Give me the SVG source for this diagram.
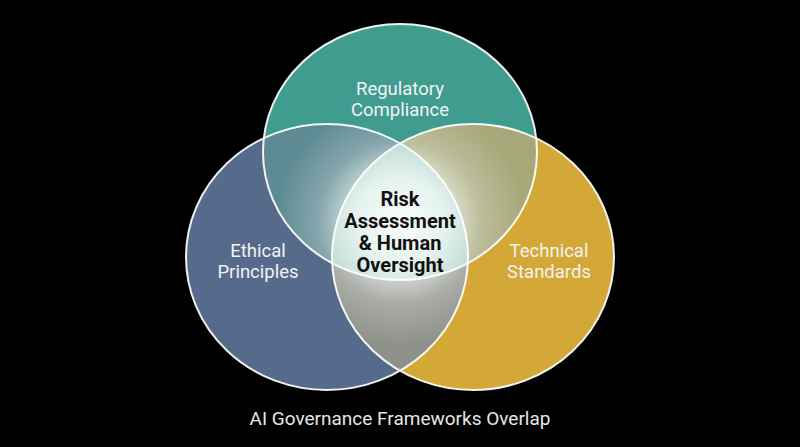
<svg xmlns="http://www.w3.org/2000/svg" width="800" height="447" viewBox="0 0 800 447">
  <style>
    .lbl { font-family: Roboto, "Liberation Sans", sans-serif; font-size: 18.5px; fill: #F2F2F2; text-anchor: middle; }
    .ctr { font-family: Roboto, "Liberation Sans", sans-serif; font-size: 20px; font-weight: bold; fill: #111111; text-anchor: middle; }
    .title { font-family: Roboto, "Liberation Sans", sans-serif; font-size: 19px; fill: #E6E6E6; text-anchor: middle; }
    .ring { fill: none; stroke: #FFFFFF; stroke-width: 2; stroke-opacity: 0.92; }
  </style>
  <defs>
    <clipPath id="cTop"><ellipse cx="400" cy="152" rx="137" ry="128"/></clipPath>
    <clipPath id="cLeft"><ellipse cx="327" cy="257" rx="141" ry="133"/></clipPath>
    <clipPath id="cRight"><ellipse cx="473" cy="257" rx="141" ry="133"/></clipPath>
    <clipPath id="cOver">
      <ellipse cx="400" cy="152" rx="137" ry="128" clip-path="url(#cLeft)"/>
      <ellipse cx="400" cy="152" rx="137" ry="128" clip-path="url(#cRight)"/>
      <ellipse cx="327" cy="257" rx="141" ry="133" clip-path="url(#cRight)"/>
    </clipPath>
    <radialGradient id="glow" cx="400" cy="222" r="125" gradientUnits="userSpaceOnUse">
      <stop offset="0" stop-color="#FFFFFF" stop-opacity="0.95"/>
      <stop offset="0.35" stop-color="#F4FBF8" stop-opacity="0.8"/>
      <stop offset="0.65" stop-color="#FFFFFF" stop-opacity="0.25"/>
      <stop offset="1" stop-color="#FFFFFF" stop-opacity="0"/>
    </radialGradient>
  </defs>
  <rect width="800" height="447" fill="#000000"/>

  <g id="fills">
    <ellipse cx="400" cy="152" rx="137" ry="128" fill="#3F9C8E"/>
    <ellipse cx="327" cy="257" rx="141" ry="133" fill="#566B8C"/>
    <ellipse cx="473" cy="257" rx="141" ry="133" fill="#D4A836"/>
    <g clip-path="url(#cLeft)"><ellipse cx="400" cy="152" rx="137" ry="128" fill="#5E8A93"/></g>
    <g clip-path="url(#cRight)"><ellipse cx="400" cy="152" rx="137" ry="128" fill="#A7A87A"/></g>
    <g clip-path="url(#cRight)"><ellipse cx="327" cy="257" rx="141" ry="133" fill="#8E918A"/></g>
    <g clip-path="url(#cRight)"><g clip-path="url(#cLeft)"><ellipse cx="400" cy="152" rx="137" ry="128" fill="#A9CFC6"/></g></g>
    <rect x="200" y="60" width="400" height="340" fill="url(#glow)" clip-path="url(#cOver)"/>
  </g>

  <g id="node-regulatory">
    <ellipse class="ring" cx="400" cy="152" rx="137" ry="128"/>
    <text class="lbl" x="400" y="95">Regulatory</text>
    <text class="lbl" x="400" y="116">Compliance</text>
  </g>
  <g id="node-ethical">
    <ellipse class="ring" cx="327" cy="257" rx="141" ry="133"/>
    <text class="lbl" x="258" y="257">Ethical</text>
    <text class="lbl" x="258" y="278">Principles</text>
  </g>
  <g id="node-technical">
    <ellipse class="ring" cx="473" cy="257" rx="141" ry="133"/>
    <text class="lbl" x="549" y="257">Technical</text>
    <text class="lbl" x="549" y="278">Standards</text>
  </g>
  <g id="node-center">
    <text class="ctr" x="400" y="206">Risk</text>
    <text class="ctr" x="400" y="228">Assessment</text>
    <text class="ctr" x="400" y="250">&amp; Human</text>
    <text class="ctr" x="400" y="272">Oversight</text>
  </g>
  <g id="connectors"/>
  <text class="title" x="400" y="425">AI Governance Frameworks Overlap</text>
</svg>
